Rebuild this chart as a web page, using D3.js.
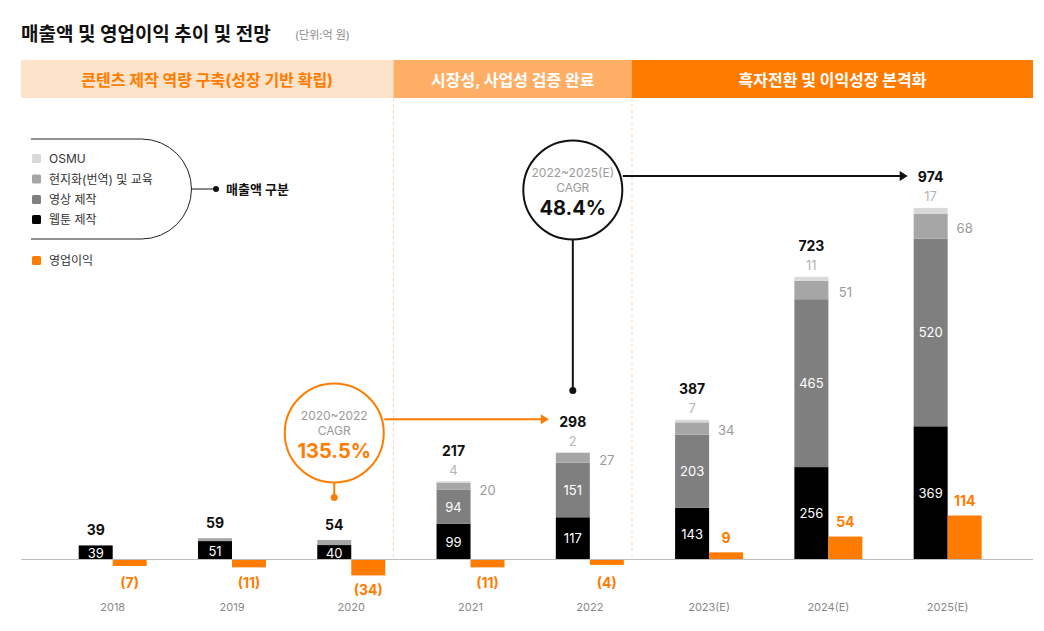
<!DOCTYPE html>
<html>
<head>
<meta charset="utf-8">
<script src="https://cdn.jsdelivr.net/npm/d3@7"></script>
<style>
  html, body { margin: 0; padding: 0; background: #fff; }
  svg { display: block; font-family: Inter, "Noto Sans CJK KR", "Noto Sans", sans-serif; }
</style>
</head>
<body>
<svg id="chart" width="1044" height="631"></svg>
<script>
// ---------- data ----------
const categories   = ['2018', '2019', '2020', '2021', '2022', '2023(E)', '2024(E)', '2025(E)'];
const webtoon      = [39, 51, 40, 99, 117, 143, 256, 369];   // 웹툰 제작
const video        = [0, 0, 0, 94, 151, 203, 465, 520];     // 영상 제작
const localization = [0, 8, 14, 20, 27, 34, 51, 68];        // 현지화(번역) 및 교육
const osmu         = [0, 0, 0, 4, 2, 7, 11, 17];            // OSMU
const totals       = [39, 59, 54, 217, 298, 387, 723, 974]; // 매출액 합계
const profit       = [-7, -11, -34, -11, -4, 9, 54, 114];   // 영업이익
const phases       = ['콘텐츠 제작 역량 구축(성장 기반 확립)', '시장성, 사업성 검증 완료', '흑자전환 및 이익성장 본격화'];
const legendLabels = ['OSMU', '현지화(번역) 및 교육', '영상 제작', '웹툰 제작'];
const cagr1 = { period: '2020~2022', label: 'CAGR', value: '135.5%' };
const cagr2 = { period: '2022~2025(E)', label: 'CAGR', value: '48.4%' };

// ---------- setup ----------
const ORANGE = '#ff7c00';
const segColors = ['#000000', '#7f7f7f', '#a6a6a6', '#d9d9d9'];
const svg = d3.select('#chart');

const x = d3.scaleBand().domain(categories).range([53.06, 1007.3]).padding(0);
const barW = 34;
const center = c => x(c) + x.bandwidth() / 2;
const baseY = 559.5;
const y = d3.scaleLinear().domain([0, 1000]).range([baseY, baseY - 361]);
// operating profit bars are drawn on their own (non-proportional) magnitude scale
const pLen = d3.scaleLinear().domain([0, 114]).range([4, 44]);

// ---------- title ----------
svg.append('text').attr('x', 21).attr('y', 34).attr('dominant-baseline', 'central')
  .attr('font-size', 19).attr('font-weight', 700).attr('fill', '#111')
  .text('매출액 및 영업이익 추이 및 전망');
svg.append('text').attr('x', 295).attr('y', 35).attr('dominant-baseline', 'central')
  .attr('font-size', 11).attr('fill', '#888').text('(단위:억 원)');

// ---------- phase header ----------
const phaseX = [21, 393.5, 632, 1033];
const phaseFill = ['#fee3cb', '#ffae66', ORANGE];
const phaseText = [ORANGE, '#fff', '#fff'];
phases.forEach((p, i) => {
  svg.append('rect').attr('x', phaseX[i]).attr('y', 60).attr('width', phaseX[i + 1] - phaseX[i]).attr('height', 38)
    .attr('fill', phaseFill[i]);
  svg.append('text').attr('x', (phaseX[i] + phaseX[i + 1]) / 2).attr('y', 79.5)
    .attr('text-anchor', 'middle').attr('dominant-baseline', 'central')
    .attr('font-size', 16).attr('font-weight', 700).attr('fill', phaseText[i]).text(p);
});
[phaseX[1], phaseX[2]].forEach(px => {
  svg.append('line').attr('x1', px).attr('x2', px).attr('y1', 98).attr('y2', baseY)
    .attr('stroke', '#fbd3b2').attr('stroke-width', 1).attr('stroke-dasharray', '3,3');
});

// ---------- legend ----------
const lg = svg.append('g');
lg.append('path').attr('d', 'M31,139 H141.5 A50,50 0 0 1 141.5,239 H31')
  .attr('fill', 'none').attr('stroke', '#222').attr('stroke-width', 1);
lg.append('line').attr('x1', 191.5).attr('x2', 216).attr('y1', 189).attr('y2', 189).attr('stroke', '#111');
lg.append('circle').attr('cx', 216).attr('cy', 189).attr('r', 3).attr('fill', '#111');
lg.append('text').attr('x', 226).attr('y', 189).attr('dominant-baseline', 'central')
  .attr('font-size', 13).attr('font-weight', 700).attr('fill', '#111').text('매출액 구분');
const legendY = [158.5, 179, 199.5, 219.5];
const legendCol = [segColors[3], segColors[2], segColors[1], segColors[0]];
legendLabels.forEach((t, i) => {
  lg.append('rect').attr('x', 32).attr('y', legendY[i] - 4.5).attr('width', 9).attr('height', 9).attr('rx', 1.5)
    .attr('fill', legendCol[i]);
  lg.append('text').attr('x', 49).attr('y', legendY[i]).attr('dominant-baseline', 'central')
    .attr('font-size', 12).attr('fill', '#333').text(t);
});
lg.append('rect').attr('x', 32).attr('y', 260.5 - 4.5).attr('width', 9).attr('height', 9).attr('rx', 1.5).attr('fill', ORANGE);
lg.append('text').attr('x', 49).attr('y', 260.5).attr('dominant-baseline', 'central')
  .attr('font-size', 12).attr('fill', '#333').text('영업이익');

// ---------- stacked revenue bars ----------
const series = [webtoon, video, localization, osmu];
const stackData = categories.map((c, i) => ({ c, v0: webtoon[i], v1: video[i], v2: localization[i], v3: osmu[i] }));
const stacked = d3.stack().keys(['v0', 'v1', 'v2', 'v3'])(stackData);

const gBars = svg.append('g');
stacked.forEach((layer, k) => {
  gBars.selectAll(null).data(layer).join('rect')
    .attr('x', d => center(d.data.c) - barW)
    .attr('width', barW)
    .attr('y', d => y(d[1]))
    .attr('height', d => Math.max(0, y(d[0]) - y(d[1])))
    .attr('fill', segColors[k]);
});

// inside labels (웹툰, 영상)
[0, 1].forEach(k => {
  stacked[k].forEach((d, i) => {
    const v = series[k][i];
    if (!v) return;
    gBars.append('text').attr('x', center(d.data.c) - barW / 2).attr('y', (y(d[0]) + y(d[1])) / 2 + (i < 3 ? 0.5 : 0))
      .attr('text-anchor', 'middle').attr('dominant-baseline', 'central')
      .attr('font-size', 13).attr('fill', '#fff').text(v);
  });
});

// side labels (현지화) and OSMU labels + totals
categories.forEach((c, i) => {
  const top = y(webtoon[i] + video[i] + localization[i] + osmu[i]);
  const hasDetail = i >= 3;
  if (hasDetail) {
    const s = stacked[2][i];
    gBars.append('text').attr('x', center(c) + barW / 2).attr('y', (y(s[0]) + y(s[1])) / 2 + (i === 3 ? 4 : 2))
      .attr('text-anchor', 'middle').attr('dominant-baseline', 'central')
      .attr('font-size', 13).attr('fill', '#9a9a9a').text(localization[i]);
    gBars.append('text').attr('x', center(c) - barW / 2).attr('y', top - 11.5)
      .attr('text-anchor', 'middle').attr('dominant-baseline', 'central')
      .attr('font-size', 13).attr('fill', '#b5b5b5').text(osmu[i]);
  }
  gBars.append('text').attr('x', center(c) - barW / 2).attr('y', top - (hasDetail ? 31 : 15.5))
    .attr('text-anchor', 'middle').attr('dominant-baseline', 'central')
    .attr('font-size', 14).attr('font-weight', 700).attr('fill', '#111').text(totals[i]);
});

// ---------- operating profit bars ----------
const gP = svg.append('g');
gP.selectAll(null).data(categories).join('rect')
  .attr('x', c => center(c))
  .attr('width', barW)
  .attr('y', (c, i) => profit[i] >= 0 ? baseY - pLen(profit[i]) : baseY)
  .attr('height', (c, i) => pLen(Math.abs(profit[i])))
  .attr('fill', ORANGE);
gP.selectAll(null).data(categories).join('text')
  .attr('x', c => center(c) + barW / 2)
  .attr('y', (c, i) => profit[i] >= 0 ? baseY - pLen(profit[i]) - 15 : Math.max(baseY + pLen(-profit[i]) + 14, 582))
  .attr('text-anchor', 'middle').attr('dominant-baseline', 'central')
  .attr('font-size', 14).attr('font-weight', 700).attr('fill', ORANGE)
  .text((c, i) => profit[i] >= 0 ? profit[i] : `(${-profit[i]})`);

// ---------- baseline & x axis ----------
svg.append('line').attr('x1', 21).attr('x2', 1033).attr('y1', baseY).attr('y2', baseY)
  .attr('stroke', '#bdbdbd').attr('stroke-width', 1);
const xAxis = svg.append('g').attr('transform', `translate(0,${baseY})`)
  .call(d3.axisBottom(x).tickSize(0).tickPadding(44));
xAxis.select('.domain').remove();
xAxis.selectAll('text').attr('font-size', 11).attr('fill', '#888')
  .attr('font-family', 'Inter, "Noto Sans CJK KR", sans-serif');

// ---------- CAGR annotations ----------
function cagr(info, cx, cy, color, valueColor, dotY, arrowToX, arrowY) {
  const g = svg.append('g');
  g.append('line').attr('x1', cx).attr('x2', cx).attr('y1', cy + 50).attr('y2', dotY)
    .attr('stroke', color).attr('stroke-width', 2);
  g.append('circle').attr('cx', cx).attr('cy', dotY).attr('r', 3.5).attr('fill', color);
  g.append('line').attr('x1', cx + 50).attr('x2', arrowToX - 6).attr('y1', arrowY).attr('y2', arrowY)
    .attr('stroke', color).attr('stroke-width', 2);
  g.append('path').attr('d', `M${arrowToX},${arrowY} L${arrowToX - 8},${arrowY - 5} L${arrowToX - 8},${arrowY + 5} Z`)
    .attr('fill', color);
  g.append('circle').attr('cx', cx).attr('cy', cy).attr('r', 49.5)
    .attr('fill', '#fff').attr('stroke', color).attr('stroke-width', 2);
  g.append('text').attr('x', cx).attr('y', cy - 18).attr('text-anchor', 'middle').attr('dominant-baseline', 'central')
    .attr('font-size', 12).attr('fill', '#9a9a9a').text(info.period);
  g.append('text').attr('x', cx).attr('y', cy - 3).attr('text-anchor', 'middle').attr('dominant-baseline', 'central')
    .attr('font-size', 12).attr('fill', '#9a9a9a').text(info.label);
  g.append('text').attr('x', cx).attr('y', cy + 17.5).attr('text-anchor', 'middle').attr('dominant-baseline', 'central')
    .attr('font-size', 20).attr('font-weight', 700).attr('fill', valueColor).text(info.value);
}
const i2020 = 2, i2022 = 4, i2025 = 7;
const top2022 = y(webtoon[i2022] + video[i2022] + localization[i2022] + osmu[i2022]);
const top2025 = y(webtoon[i2025] + video[i2025] + localization[i2025] + osmu[i2025]);
cagr(cagr1, center(categories[i2020]) - barW / 2, 433, ORANGE, ORANGE, 497.5,
     center(categories[i2022]) - barW / 2 - 24, top2022 - 31 - 2);
cagr(cagr2, center(categories[i2022]) - barW / 2, 190, '#111', '#111', 390.5,
     center(categories[i2025]) - barW / 2 - 23, top2025 - 31 - 1);
</script>
</body>
</html>
